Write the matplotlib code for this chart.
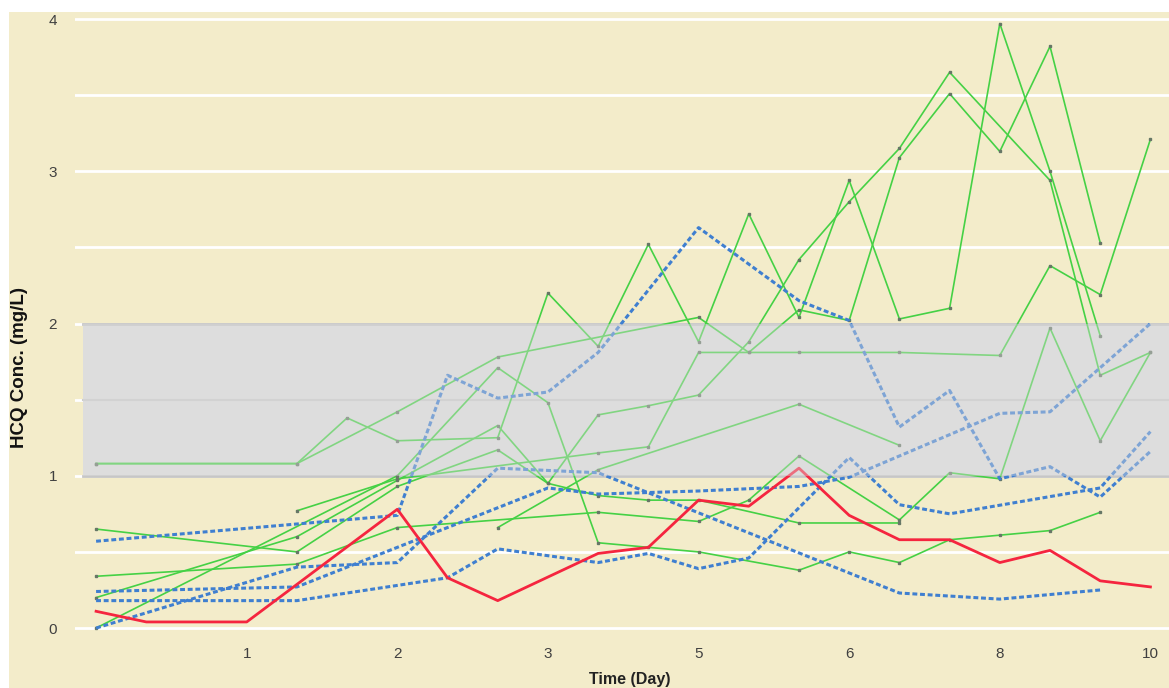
import numpy as np
import matplotlib
matplotlib.use('Agg')
import matplotlib.pyplot as plt
from matplotlib.patches import Rectangle

N = None

# sample index (22 sampling points, labelled by day every third point)
sample_idx = list(range(22))
tick_pos = [3, 6, 9, 12, 15, 18, 21]
tick_labels = ['1', '2', '3', '5', '6', '8', '10']
y_ticks = [0, 1, 2, 3, 4]

# red patient
red = [0.11, 0.04, N, 0.04, N, N, 0.78, 0.33, 0.18, N, 0.49, 0.53,
       0.84, 0.80, 1.05, 0.74, 0.58, 0.58, 0.43, 0.51, 0.31, 0.27]

# blue dashed patients
blue_a = [0.57, N, N, N, N, N, 0.74, 1.66, 1.51, 1.55, 1.81, N,
          2.63, N, 2.15, 2.02, 1.32, 1.56, 0.98, 1.06, 0.86, 1.16]
blue_c = [0.00, N, N, N, 0.40, N, 0.43, N, 1.05, N, 1.02, N,
          N, N, N, N, 0.23, N, 0.19, N, 0.25, N]
blue_d = [0.18, N, N, N, 0.18, N, N, 0.33, 0.52, N, 0.43, 0.49,
          0.39, 0.46, N, 1.12, 0.81, 0.75, N, N, 0.92, 1.29]
blue_e = [0.24, N, N, N, 0.27, N, N, N, N, 0.92, 0.88, N,
          0.90, N, 0.93, 0.99, N, N, 1.41, 1.42, N, 2.00]

# green patients
green_1 = [0.65, N, N, N, 0.50, N, 0.93, N, 1.17, 0.95, 0.87, 0.84,
           0.84, N, 0.69, N, 0.69, N, N, N, N, N]
green_2 = [0.34, N, N, N, 0.42, N, 0.66, N, N, N, 0.76, N,
           0.70, 0.84, 1.13, N, 0.71, 1.02, 0.98, 1.97, 1.23, 1.81]
green_3 = [0.20, N, N, N, 0.60, N, 0.97, N, 1.33, 0.95, 1.40, 1.46,
           1.53, 1.88, 2.42, 2.80, 3.15, 3.65, N, 2.94, 1.66, 1.81]
green_4 = [0.00, N, N, N, N, N, 1.00, N, 1.71, 1.48, 0.56, 0.53,
           0.50, N, 0.38, 0.50, 0.43, 0.58, 0.61, 0.64, 0.76, N]
green_5 = [N, N, N, N, 0.77, N, 0.98, N, N, N, 1.15, 1.19,
           1.81, 1.81, 1.81, N, 1.81, N, 1.79, 2.38, 2.19, 3.21]
green_6 = [1.08, N, N, N, 1.08, 1.38, 1.23, N, 1.25, 2.20, 1.85, 2.52,
           1.88, 2.72, 2.04, 2.94, 2.03, 2.10, 3.97, 3.00, 1.92, N]
green_7 = [1.08, N, N, N, 1.08, N, 1.42, N, 1.78, N, N, N,
           2.04, 1.81, 2.09, 2.02, 3.09, 3.51, 3.13, 3.82, 2.53, N]
green_8 = [N, N, N, N, N, N, N, N, 0.66, N, 1.04, N,
           N, N, 1.47, N, 1.20, N, N, N, N, N]

greens = [green_1, green_2, green_3, green_4, green_5, green_6, green_7, green_8]
blues = [blue_a, blue_c, blue_d, blue_e]

BEIGE = '#f3ecca'
BAND = '#dddddd'


def pts(series):
    xs = [x for x, v in zip(sample_idx, series) if v is not None]
    ys = [v for v in series if v is not None]
    return xs, ys


fig = plt.figure(figsize=(11.69, 6.88), dpi=100, facecolor='white')
fig.patches.append(Rectangle((9 / 1169, 0), 1, 676 / 688, transform=fig.transFigure,
                             facecolor=BEIGE, edgecolor='none', zorder=-5))
ax = fig.add_axes([75 / 1169, 42 / 688, 1094 / 1169, 634 / 688])
ax.set_facecolor(BEIGE)
for s in ax.spines.values():
    s.set_visible(False)

ax.set_xlim(-0.42, 21.37)
ax.set_ylim(-0.118, 4.046)

# white grid
for g in np.arange(0, 4.01, 0.5):
    ax.axhline(g, color='white', lw=2, zorder=0.5)

# target range band
band_x0 = 8 / 1094
ax.axhspan(1, 2, xmin=band_x0, xmax=1, color=BAND, zorder=1, lw=0)
ax.axhline(1.5, xmin=band_x0, color='#cccccc', lw=1.5, zorder=1.2)
ax.axhline(1, xmin=band_x0, color='#c6c6c6', lw=2, zorder=1.2)
ax.axhline(2, xmin=band_x0, color='#c6c6c6', lw=2, zorder=1.2)

for s in greens:
    xs, ys = pts(s)
    ax.plot(xs, ys, color='#45d145', lw=1.2, zorder=2,
            marker='s', ms=2, mfc='#667766', mec='#667766')

for s in blues:
    xs, ys = pts(s)
    ax.plot(xs, ys, color='#3f7fd0', lw=2.2, ls=(0, (1.6, 0.9)), zorder=2.5)

xs, ys = pts(red)
ax.plot(xs, ys, color='#f5253f', lw=2, zorder=3)

# translucent overlay of the band on top of the lines
ax.axhspan(1, 2, xmin=band_x0, xmax=1, color=BAND, alpha=0.4, zorder=4, lw=0)

ax.set_xticks(tick_pos)
ax.set_xticklabels(tick_labels)
ax.set_yticks(y_ticks)
ax.tick_params(length=0, labelsize=11, labelcolor='#404040')
ax.tick_params(axis='x', pad=0.5)
ax.tick_params(axis='y', pad=13)
for lab in ax.get_xticklabels() + ax.get_yticklabels():
    lab.set_fontfamily('Liberation Sans')

ax.set_xlabel('Time (Day)', fontsize=11.5, fontweight='bold', family='Liberation Sans',
              color='#222222')
ax.xaxis.set_label_coords(0.507, -0.041)
ax.set_ylabel('HCQ Conc. (mg/L)', fontsize=13.5, fontweight='bold', family='Liberation Sans',
              color='#111111')
ax.yaxis.set_label_coords(-0.043, 0.44)

fig.savefig('out.png', dpi=100, facecolor='white')
